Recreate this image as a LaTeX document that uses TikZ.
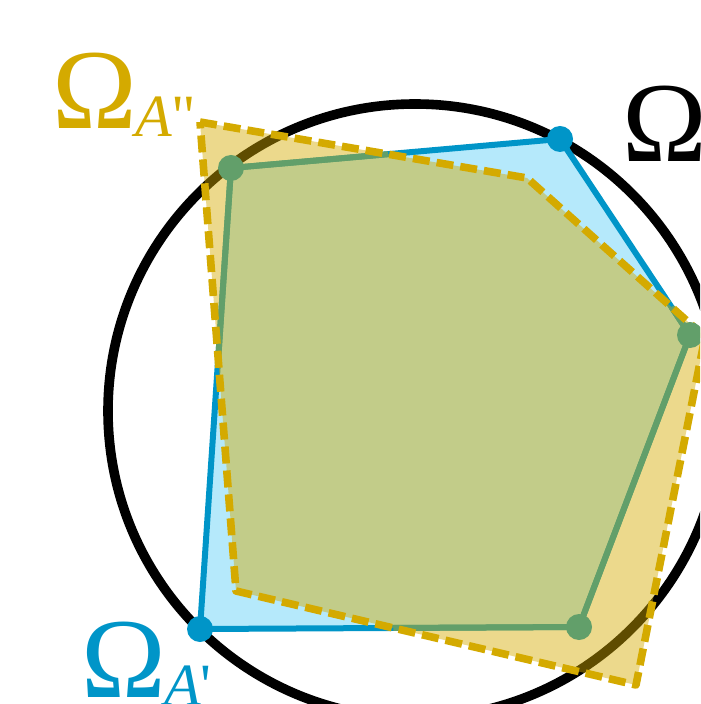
\documentclass[tikz,border=0pt]{standalone}
\usepackage{fontspec}
\setmainfont{Liberation Serif}
\newfontfamily\rawserif{Liberation Serif}
\usetikzlibrary{arrows.meta,positioning}

\definecolor{omblue}{HTML}{0095C8}
\definecolor{omlight}{HTML}{B5E9FB}
\definecolor{omgold}{HTML}{D4AA00}
\definecolor{omgreen}{HTML}{629F6A}

\tikzset{
  omlabel/.style={inner sep=0pt,anchor=base west,font=\fontsize{57}{57}\selectfont},
  goldedge/.style={omgold,line width=3.8pt,dash pattern=on 8.5pt off 3.5pt},
}
\newcommand{\omsub}[1]{\raisebox{-4pt}{\fontsize{30}{30}\selectfont\itshape A{\rawserif\upshape #1}}}

\begin{document}
\begin{tikzpicture}[x=0.5pt,y=-0.5pt,line join=round]
\useasboundingbox (0,0) rectangle (700,704);
\clip (0,0) rectangle (700,704);

% blue polygon
\coordinate (b1) at (231,168);
\coordinate (b2) at (560,139);
\coordinate (b3) at (690,335);
\coordinate (b4) at (579,627);
\coordinate (b5) at (200,629);
% gold polygon
\coordinate (y1) at (200,122);
\coordinate (y2) at (527,178);
\coordinate (y3) at (705,337);
\coordinate (y4) at (636,685);
\coordinate (y5) at (236,591);
% where they cross
\coordinate (p1) at (intersection of b1--b2 and y1--y2);
\coordinate (p2) at (intersection of b5--b4 and y4--y5);
\coordinate (p3) at (intersection of b5--b1 and y5--y1);
\coordinate (q) at (intersection of b2--b3 and y2--y3);

\draw[line width=4.8pt] (415,411) circle[radius=153.5pt];

\draw[omblue,fill=omlight,line width=3pt]
(b1) -- (b2) -- (b3) -- (b4) -- (b5) -- cycle;

\fill[omgold,fill opacity=0.45]
(y1) -- (y2) -- (y3) -- (y4) -- (y5) -- cycle;

% overlap outline
\draw[omgreen,line width=3pt] (p3) -- (b1) -- (p1);
\draw[omgreen,line width=3pt] (q) -- (b3) -- (b4) -- (p2);

\draw[goldedge] (y1) -- (y2) -- (y3) -- (y4) -- (y5) -- cycle;

% vertices
\fill[omgreen] (b1) circle[radius=6.5pt];
\fill[omgreen] (b3) circle[radius=6.5pt];
\fill[omgreen] (b4) circle[radius=6.5pt];
\fill[omblue] (b2) circle[radius=6.5pt];
\fill[omblue] (b5) circle[radius=6.5pt];

% labels
\node[omlabel,omgold] (la2) at (52,129) {Ω\kern-1pt\omsub{\symbol{34}}};
\node[omlabel,omblue] (la1) at (81,697) {Ω\kern-1pt\omsub{\symbol{39}}};
\node[omlabel] (la) at (622,162) {Ω};
\end{tikzpicture}
\end{document}
